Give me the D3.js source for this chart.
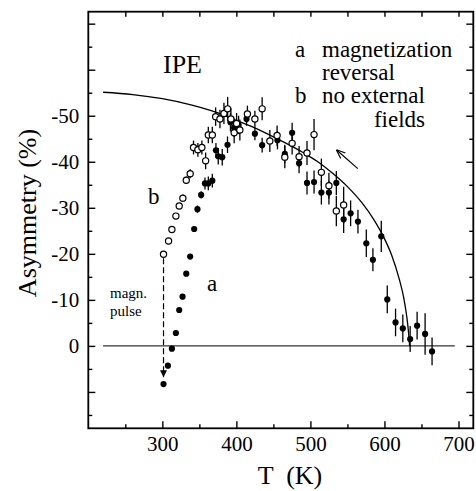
<html>
<head>
<meta charset="utf-8">
<title>IPE asymmetry</title>
<script src="https://d3js.org/d3.v7.min.js"></script>
<style>
  body { margin: 0; background: #fff; }
  text { font-family: "Liberation Serif", "DejaVu Serif", serif; fill: #000; }
</style>
</head>
<body>
<svg width="476" height="491"></svg>
<script>
// curve a: magnetization reversal (filled)
var tempA = [301.6, 307.5, 312.9, 318.3, 322.8, 327.3, 332.3, 337.6, 343, 347.4, 352.4, 357.6, 362.1, 367.5,
  372.4, 375.5, 380.9, 388, 392, 397, 403, 413.7, 425, 434.8, 455.5, 465.4, 475.3, 484.7, 495.4, 504.9,
  514.8, 525, 535, 544.9, 554.3, 564.2, 575.5, 584.4, 595.7, 603.8, 615, 624.8, 634.7, 644.1, 654.9, 664.3];
var asymA = [8.3, 4.3, 0.6, -2.8, -7.8, -10.7, -15.7, -19.4, -25.4, -29.7, -32.8, -35.3, -35.3, -35.9,
  -42.5, -41.2, -41, -43.7, -48.6, -47.4, -48, -49.3, -46.1, -43.6, -44.7, -41.7, -46.3, -39.7, -35.4, -35.6,
  -33.3, -33.3, -35.4, -27.5, -28.8, -27, -22.3, -18.7, -23.8, -10.1, -5.1, -3.8, -1.5, -4.4, -2.6, 1.2];
var errA = [0, 0, 0, 0, 0, 0, 0, 0, 0, 0.8, 0.8, 1.3, 1.5, 1.5,
  1.6, 1.8, 1.8, 1.8, 2, 2, 2, 1.5, 1.4, 1.6, 2, 2, 2.2, 2.2, 2.5, 2.5,
  2.6, 2.6, 2.6, 3, 2.8, 2.6, 3, 2.5, 3.4, 3, 3, 3, 2.8, 3, 4.5, 3];

// curve b: no external fields (open)
var tempB = [301.6, 308.4, 312.9, 318.3, 322.8, 327.7, 332.3, 337.6, 342.1, 348, 353.4, 358.5, 362.1, 367.5,
  372, 377.8, 383.2, 388.2, 392.6, 397, 400.3, 404.7, 414.9, 425, 434.8, 445.2, 455, 465.4, 475.3, 484.7,
  495.4, 504.9, 514.8, 525, 535, 544.9];
var asymB = [-19.9, -22.8, -25.3, -28.2, -30.4, -32.1, -36, -37.4, -43.1, -42.6, -43.1, -40.2, -45.8, -45.8,
  -49.8, -49.3, -50.5, -51.5, -49.3, -46.3, -48.3, -46.9, -50.4, -49.3, -51.5, -44.5, -45.7, -41, -44, -41.1,
  -41.9, -45.9, -37.7, -34.8, -29.3, -30.6];
var errB = [0, 0, 0, 0, 0, 0.8, 0.8, 1, 1.5, 1.5, 1.5, 1.8, 1.8, 1.8,
  2, 2, 2.3, 2.6, 2.3, 2.3, 2.3, 2.3, 1.8, 1.8, 2.5, 2.4, 2.2, 2.4, 2.4, 2.3,
  2.6, 3.4, 3, 2.8, 3.3, 4];

// solid line
var fitT = [220, 260, 300, 340, 370, 400, 430, 460, 490, 510, 530, 550, 570, 585, 600, 610, 620, 626, 630, 632.5, 634];
var fitA = [-55.1, -54.6, -53.7, -52.3, -50.9, -49, -47, -44.6, -42, -40, -37.5, -34.6, -31, -27.6, -23.3, -19.6, -14.5, -10.5, -6.5, -3, 0];

var xTicks = [300, 400, 500, 600, 700];
var yTicks = [-50, -40, -30, -20, -10, 0];

var svg = d3.select("svg");
var marge = {top: 11.7, right: 2.7, bottom: 62.7, left: 88.3};
var W = 476 - marge.left - marge.right;
var H = 491 - marge.top - marge.bottom;
var g = svg.append("g").attr("transform", "translate(" + marge.left + "," + marge.top + ")");

var x = d3.scaleLinear().domain([200, 720]).range([0, W]);
var y = d3.scaleLinear().domain([-72.6, 17.9]).range([0, H]);

// inward ticks on all four sides
var xMinor = d3.range(250, 720, 50);
var yMinor = d3.range(-70, 18, 5);
function ticks(axis, vals, size, tr) {
  var a = g.append("g").attr("transform", tr || null)
    .call(axis.tickValues(vals).tickSize(-size).tickFormat(""));
  a.select(".domain").remove();
  a.selectAll("line").attr("stroke-width", 1.4);
}
ticks(d3.axisBottom(x), xMinor.filter(d => d % 100 != 0), 4, "translate(0," + H + ")");
ticks(d3.axisBottom(x), xMinor.filter(d => d % 100 == 0), 7, "translate(0," + H + ")");
ticks(d3.axisTop(x), xMinor, 5);
ticks(d3.axisLeft(y), yMinor.filter(d => d % 10 != 0), 4);
ticks(d3.axisLeft(y), yMinor.filter(d => d % 10 == 0), 7);
ticks(d3.axisRight(y), yMinor.filter(d => d % 10 != 0), 4, "translate(" + W + ",0)");
ticks(d3.axisRight(y), yMinor.filter(d => d % 10 == 0), 7, "translate(" + W + ",0)");

// tick labels
var xl = g.append("g").attr("transform", "translate(0," + H + ")")
  .call(d3.axisBottom(x).tickValues(xTicks).tickSize(0).tickPadding(8).tickFormat(d => String(d)));
xl.select(".domain").remove();
xl.selectAll("text").attr("font-size", 21).attr("font-family", "Liberation Serif").attr("dy", "0.71em");

var yl = g.append("g")
  .call(d3.axisLeft(y).tickValues(yTicks).tickSize(0).tickPadding(9).tickFormat(d => String(d)));
yl.select(".domain").remove();
yl.selectAll("text").attr("font-size", 21).attr("font-family", "Liberation Serif");

// frame
g.append("rect").attr("width", W).attr("height", H)
  .attr("fill", "none").attr("stroke", "#000").attr("stroke-width", 1.8);

// zero line
g.append("line")
  .attr("x1", x(220)).attr("x2", x(695)).attr("y1", y(0)).attr("y2", y(0))
  .attr("stroke", "#000").attr("stroke-width", 1);

// fit curve
var line = d3.line().x(d => x(d[0])).y(d => y(d[1])).curve(d3.curveMonotoneX);
g.append("path").datum(d3.zip(fitT, fitA)).attr("d", line)
  .attr("fill", "none").attr("stroke", "#000").attr("stroke-width", 1.3);

// markers
var defs = svg.append("defs");
defs.append("marker").attr("id", "tri").attr("viewBox", "0 0 10 10")
  .attr("refX", 10).attr("refY", 5).attr("markerWidth", 7).attr("markerHeight", 7)
  .attr("markerUnits", "userSpaceOnUse").attr("orient", "auto")
  .append("path").attr("d", "M0,0L10,5L0,10Z").attr("fill", "#000");
defs.append("marker").attr("id", "vee").attr("viewBox", "0 0 10 10")
  .attr("refX", 10).attr("refY", 5).attr("markerWidth", 9).attr("markerHeight", 9)
  .attr("markerUnits", "userSpaceOnUse").attr("orient", "auto")
  .append("path").attr("d", "M0,1L10,5L0,9").attr("fill", "none").attr("stroke", "#000").attr("stroke-width", 1.3);

// magn. pulse dashed arrow
g.append("line")
  .attr("x1", x(301.6)).attr("x2", x(301.6)).attr("y1", y(-19.9) + 4).attr("y2", y(6.8))
  .attr("stroke", "#000").attr("stroke-width", 1.2).attr("stroke-dasharray", "6,3")
  .attr("marker-end", "url(#tri)");

// direction arrow
g.append("line")
  .attr("x1", x(564)).attr("y1", y(-38.5)).attr("x2", x(535)).attr("y2", y(-42.6))
  .attr("stroke", "#000").attr("stroke-width", 1.2).attr("marker-end", "url(#vee)");

// error bars
var setA = d3.range(tempA.length).map(i => ({t: tempA[i], v: asymA[i], e: errA[i]}));
var setB = d3.range(tempB.length).map(i => ({t: tempB[i], v: asymB[i], e: errB[i]}));
[setA, setB].forEach(function(s) {
  g.append("g").selectAll("line").data(s.filter(d => d.e > 0)).enter().append("line")
    .attr("x1", d => x(d.t)).attr("x2", d => x(d.t))
    .attr("y1", d => y(d.v - d.e)).attr("y2", d => y(d.v + d.e))
    .attr("stroke", "#000").attr("stroke-width", 1.3);
});

g.append("g").selectAll("circle").data(setA).enter().append("circle")
  .attr("cx", d => x(d.t)).attr("cy", d => y(d.v)).attr("r", 3.1).attr("fill", "#000");
g.append("g").selectAll("circle").data(setB).enter().append("circle")
  .attr("cx", d => x(d.t)).attr("cy", d => y(d.v)).attr("r", 3.1)
  .attr("fill", "#fff").attr("stroke", "#000").attr("stroke-width", 1.2);

// texts
function txt(s, px, py, size, anchor) {
  return svg.append("text").attr("x", px).attr("y", py).attr("font-size", size)
    .attr("text-anchor", anchor || "start").text(s);
}
txt("IPE", 163, 73, 26);
txt("a", 295, 57, 23);
txt("magnetization", 322, 57, 23);
txt("reversal", 322, 80, 23);
txt("b", 295, 103, 23);
txt("no external", 322, 103, 23);
txt("fields", 425, 127, 23, "end");
txt("b", 148, 204, 23);
txt("a", 207, 291, 23);
txt("magn.", 110, 298, 15);
txt("pulse", 110, 316, 15);

svg.append("text").attr("transform", "translate(36,213) rotate(-90)")
  .attr("text-anchor", "middle").attr("font-size", 26).text("Asymmetry (%)");
svg.append("text").attr("x", 290).attr("y", 484).attr("text-anchor", "middle")
  .attr("font-size", 26).attr("xml:space", "preserve").text("T  (K)");
</script>
</body>
</html>
